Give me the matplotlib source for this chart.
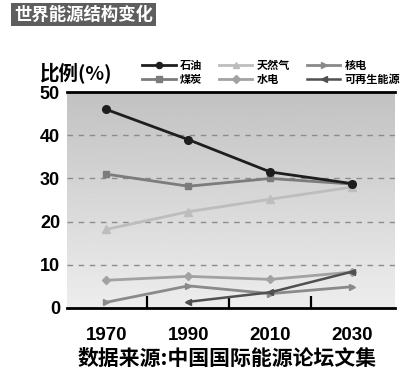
import numpy as np
import matplotlib.pyplot as plt

plt.rcParams['font.family'] = ['Noto Sans CJK SC', 'DejaVu Sans']
plt.rcParams['font.weight'] = 'bold'

years = ['1970', '1990', '2010', '2030']
oil = [46, 39, 31.5, 28.8]
coal = [31, 28.2, 30, 28.7]
gas = [18.2, 22.3, 25.2, 28]
hydro = [6.4, 7.3, 6.6, 8.3]
nuclear = [1.3, 5.1, 3.3, 4.9]
renew_years = [1, 2, 3]
renew = [1.4, 3.6, 8.4]

fig = plt.figure(figsize=(4.0, 3.81), dpi=100)
ax = fig.add_axes([0.1675, 0.192, 0.82, 0.566])

x = np.arange(len(years))
xlim = (-0.48, 3.52)

# 渐变背景
grad = np.linspace(0.76, 0.93, 256).reshape(-1, 1)
ax.imshow(grad, extent=[xlim[0], xlim[1], 0, 50], aspect='auto', cmap='gray',
          vmin=0, vmax=1, zorder=0, origin='upper')

for yv in [10, 20, 30, 40]:
    ax.axhline(yv, color='#8c8c8c', lw=1.0, ls=(0, (4, 4)), zorder=1)

ax.plot(x, oil, '-o', color='#1e1e1e', lw=2, ms=5.5, zorder=6, label='石油')
ax.plot(x, coal, '-s', color='#7c7c7c', lw=2, ms=5, zorder=5, label='煤炭')
ax.plot(x, gas, '-^', color='#bdbdbd', lw=2, ms=6, zorder=4, label='天然气')
ax.plot(x, hydro, '-D', color='#a2a2a2', lw=2, ms=4.5, zorder=3, label='水电')
ax.plot(x, nuclear, '->', color='#8a8a8a', lw=2, ms=5, zorder=3, label='核电')
ax.plot(renew_years, renew, '-<', color='#505050', lw=1.8, ms=5, zorder=4, label='可再生能源')

ax.set_xlim(*xlim)
ax.set_ylim(0, 50)
ax.set_yticks([0, 10, 20, 30, 40, 50])
ax.set_xticks(x)
ax.set_xticklabels(years)
ax.set_xticks([0.5, 1.5, 2.5], minor=True)
ax.tick_params(axis='y', length=0, pad=5, labelsize=13)
ax.tick_params(axis='x', which='major', length=0, pad=14, labelsize=13.5)
ax.tick_params(axis='x', which='minor', direction='in', length=9, width=1.6, color='black')
for lab in ax.get_xticklabels() + ax.get_yticklabels():
    lab.set_fontfamily(['Liberation Sans', 'DejaVu Sans'])
    lab.set_fontweight('bold')

for s in ['left', 'right']:
    ax.spines[s].set_visible(False)
ax.spines['top'].set_linewidth(2)
ax.spines['bottom'].set_linewidth(2)

# 图例
handles, labels = ax.get_legend_handles_labels()
fig.legend(handles, labels, ncol=3,
           loc='upper left', bbox_to_anchor=(0.345, 0.857), frameon=False,
           fontsize=8, handlelength=3.0, handletextpad=0.4, columnspacing=1.5,
           labelspacing=0.1, borderaxespad=0, markerscale=0.8)

fig.text(0.035, 0.985, '世界能源结构变化', color='white', fontsize=12.5, fontweight='bold',
         va='top', ha='left',
         bbox=dict(facecolor='#5e5e5e', edgecolor='none', pad=2))
fig.text(0.1, 0.81, '比例(%)', fontsize=14, fontweight='bold', va='center', ha='left')
fig.text(0.195, 0.06, '数据来源:中国国际能源论坛文集', fontsize=15, fontweight='bold',
         va='center', ha='left')

fig.savefig('out.png', dpi=100)
